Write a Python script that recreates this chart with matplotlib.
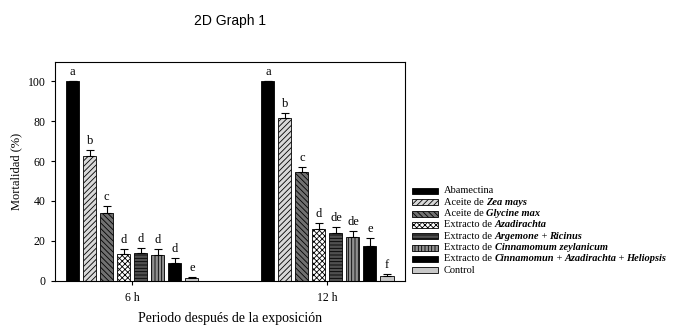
import numpy as np
import matplotlib.pyplot as plt
from matplotlib.patches import Rectangle

plt.rcParams['font.family'] = 'Liberation Serif'
plt.rcParams['hatch.linewidth'] = 0.6

periods = ['6 h', '12 h']
# legend labels as (text, species?) pieces; species names in bold italic
treatments = [[('Abamectina', 0)],
              [('Aceite de ', 0), ('Zea mays', 1)],
              [('Aceite de ', 0), ('Glycine max', 1)],
              [('Extracto de ', 0), ('Azadirachta', 1)],
              [('Extracto de ', 0), ('Argemone', 1), (' + ', 0), ('Ricinus', 1)],
              [('Extracto de ', 0), ('Cinnamomum zeylanicum', 1)],
              [('Extracto de ', 0), ('Cinnamomun', 1), (' + ', 0), ('Azadirachta', 1),
               (' + ', 0), ('Heliopsis', 1)],
              [('Control', 0)]]
mort_6h = [100, 62.5, 34, 13.5, 14, 13, 9, 1.5]
err_6h = [0, 3, 3.5, 2.5, 2.5, 3, 2.5, 0.7]
let_6h = ['a', 'b', 'c', 'd', 'd', 'd', 'd', 'e']
mort_12h = [100, 81.3, 54.7, 26, 24.2, 22.2, 17.5, 2.5]
err_12h = [0, 2.5, 2.5, 3, 2.7, 2.7, 3.8, 0.9]
let_12h = ['a', 'b', 'c', 'd', 'de', 'de', 'e', 'f']

colors = ['black', '#d8d8d8', '#707070', 'white', '#505050', '#909090', 'black', '#c8c8c8']
hatches = [None, '//////', '\\\\\\\\\\\\', 'xxxxxx', '-----', '|||||', None, None]

W, H = 684, 330
fig = plt.figure(figsize=(W / 100, H / 100), dpi=100)
ax = fig.add_axes([0.080, 0.1485, 0.512, 0.6636])

pitch = 17 / 195
width = 13 / 195
vals = np.array([mort_6h, mort_12h])
errs = np.array([err_6h, err_12h])
lets = [let_6h, let_12h]
x = np.arange(len(periods))
for i in range(len(treatments)):
    xi = x + (i - 3.5) * pitch
    ax.bar(xi, vals[:, i], width, color=colors[i], hatch=hatches[i],
           edgecolor='black', linewidth=0.6)
    ax.errorbar(xi, vals[:, i], yerr=[np.zeros(2), errs[:, i]], fmt='none',
                ecolor='black', elinewidth=0.8, capsize=3, capthick=0.8)
    for j in range(len(periods)):
        ax.text(xi[j], vals[j, i] + errs[j, i] + 1.5, lets[j][i],
                ha='center', va='bottom', fontsize=9)

ax.set_xlim(-0.397, 1.397)
ax.set_ylim(0, 109.5)
ax.set_yticks(range(0, 101, 20))
ax.set_xticks(x)
ax.set_xticklabels(periods)
ax.tick_params(labelsize=8.5, direction='out', length=3, width=0.8)
ax.tick_params(axis='x', pad=5)
for s in ax.spines.values():
    s.set_linewidth(0.8)
ax.set_ylabel('Mortalidad (%)', fontsize=9)
ax.set_xlabel('Periodo después de la exposición', fontsize=10, labelpad=6)

fig.text(0.336, 0.925, '2D Graph 1', fontsize=10, family='Liberation Sans', ha='center')

# legend drawn by hand so rows stay evenly spaced
renderer = fig.canvas.get_renderer()
for i, pieces in enumerate(treatments):
    yc = 191 + i * 11.3
    fig.patches.append(Rectangle((412 / W, 1 - (yc + 3) / H), 26 / W, 6 / H,
                                 transform=fig.transFigure, facecolor=colors[i],
                                 hatch=hatches[i], edgecolor='black', linewidth=0.6))
    xp = 444
    for txt, sp in pieces:
        t = fig.text(xp / W, 1 - (yc + 2.5) / H, txt, fontsize=7.5, va='baseline', ha='left',
                     fontweight='bold' if sp else 'normal',
                     fontstyle='italic' if sp else 'normal')
        xp += t.get_window_extent(renderer).width - (1 if txt.startswith(' ') else 0)

fig.savefig('out.png', dpi=100)
